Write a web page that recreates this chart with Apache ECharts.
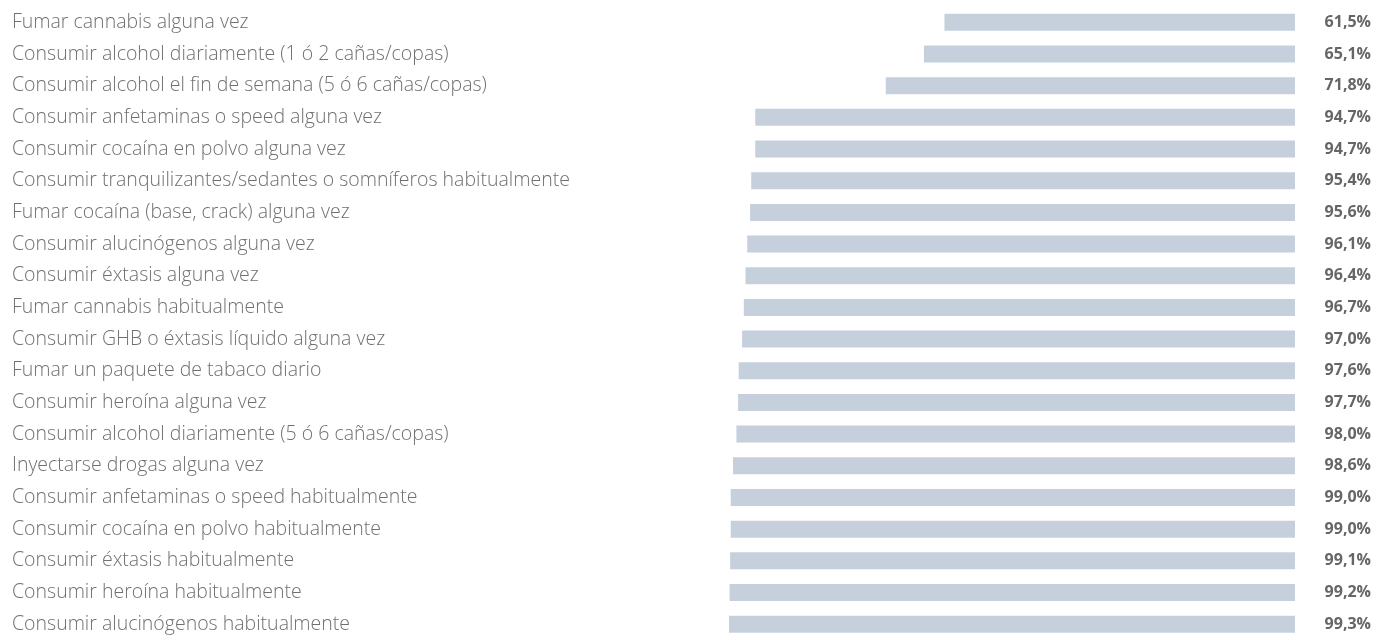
<!DOCTYPE html>
<html>
<head>
<meta charset="utf-8">
<script src="https://cdn.jsdelivr.net/npm/echarts@6/dist/echarts.min.js"></script>
<style>
  html, body { margin: 0; padding: 0; background: #fff; }
  #main { width: 1375px; height: 640px; }
</style>
</head>
<body>
<div id="main"></div>
<script>
// categorias (de arriba a abajo)
var categorias = [
    'Fumar cannabis alguna vez',
    'Consumir alcohol diariamente (1 ó 2 cañas/copas)',
    'Consumir alcohol el fin de semana (5 ó 6 cañas/copas)',
    'Consumir anfetaminas o speed alguna vez',
    'Consumir cocaína en polvo alguna vez',
    'Consumir tranquilizantes/sedantes o somníferos habitualmente',
    'Fumar cocaína (base, crack) alguna vez',
    'Consumir alucinógenos alguna vez',
    'Consumir éxtasis alguna vez',
    'Fumar cannabis habitualmente',
    'Consumir GHB o éxtasis líquido alguna vez',
    'Fumar un paquete de tabaco diario',
    'Consumir heroína alguna vez',
    'Consumir alcohol diariamente (5 ó 6 cañas/copas)',
    'Inyectarse drogas alguna vez',
    'Consumir anfetaminas o speed habitualmente',
    'Consumir cocaína en polvo habitualmente',
    'Consumir éxtasis habitualmente',
    'Consumir heroína habitualmente',
    'Consumir alucinógenos habitualmente'
];

// porcentajes
var valores = [61.5, 65.1, 71.8, 94.7, 94.7, 95.4, 95.6, 96.1, 96.4, 96.7,
               97.0, 97.6, 97.7, 98.0, 98.6, 99.0, 99.0, 99.1, 99.2, 99.3];

var etiquetas = valores.map(function (v) {
    return v.toFixed(1).replace('.', ',') + '%';
});

var chartDom = document.getElementById('main');
var myChart = echarts.init(chartDom);

var option = {
    animation: false,
    grid: {
        left: 725,
        right: 80,
        top: 6.5,
        height: 640
    },
    xAxis: {
        type: 'value',
        min: 0,
        max: 100,
        inverse: true,
        show: false
    },
    yAxis: [
        {
            type: 'category',
            data: categorias,
            inverse: true,
            position: 'left',
            axisLine: { show: false },
            axisTick: { show: false },
            axisLabel: {
                align: 'left',
                margin: 713,
                fontFamily: 'Open Sans',
                fontWeight: 300,
                fontSize: 19.5,
                color: '#707070'
            }
        },
        {
            type: 'category',
            data: etiquetas,
            inverse: true,
            position: 'right',
            axisLine: { show: false },
            axisTick: { show: false },
            axisLabel: {
                align: 'right',
                margin: 76,
                fontFamily: 'Open Sans',
                fontWeight: 'bold',
                fontSize: 16,
                color: '#666'
            }
        }
    ],
    series: [
        {
            type: 'bar',
            data: valores,
            barWidth: 17,
            itemStyle: { color: '#c6d0dc' },
            silent: true
        }
    ]
};

myChart.setOption(option);
</script>
</body>
</html>
